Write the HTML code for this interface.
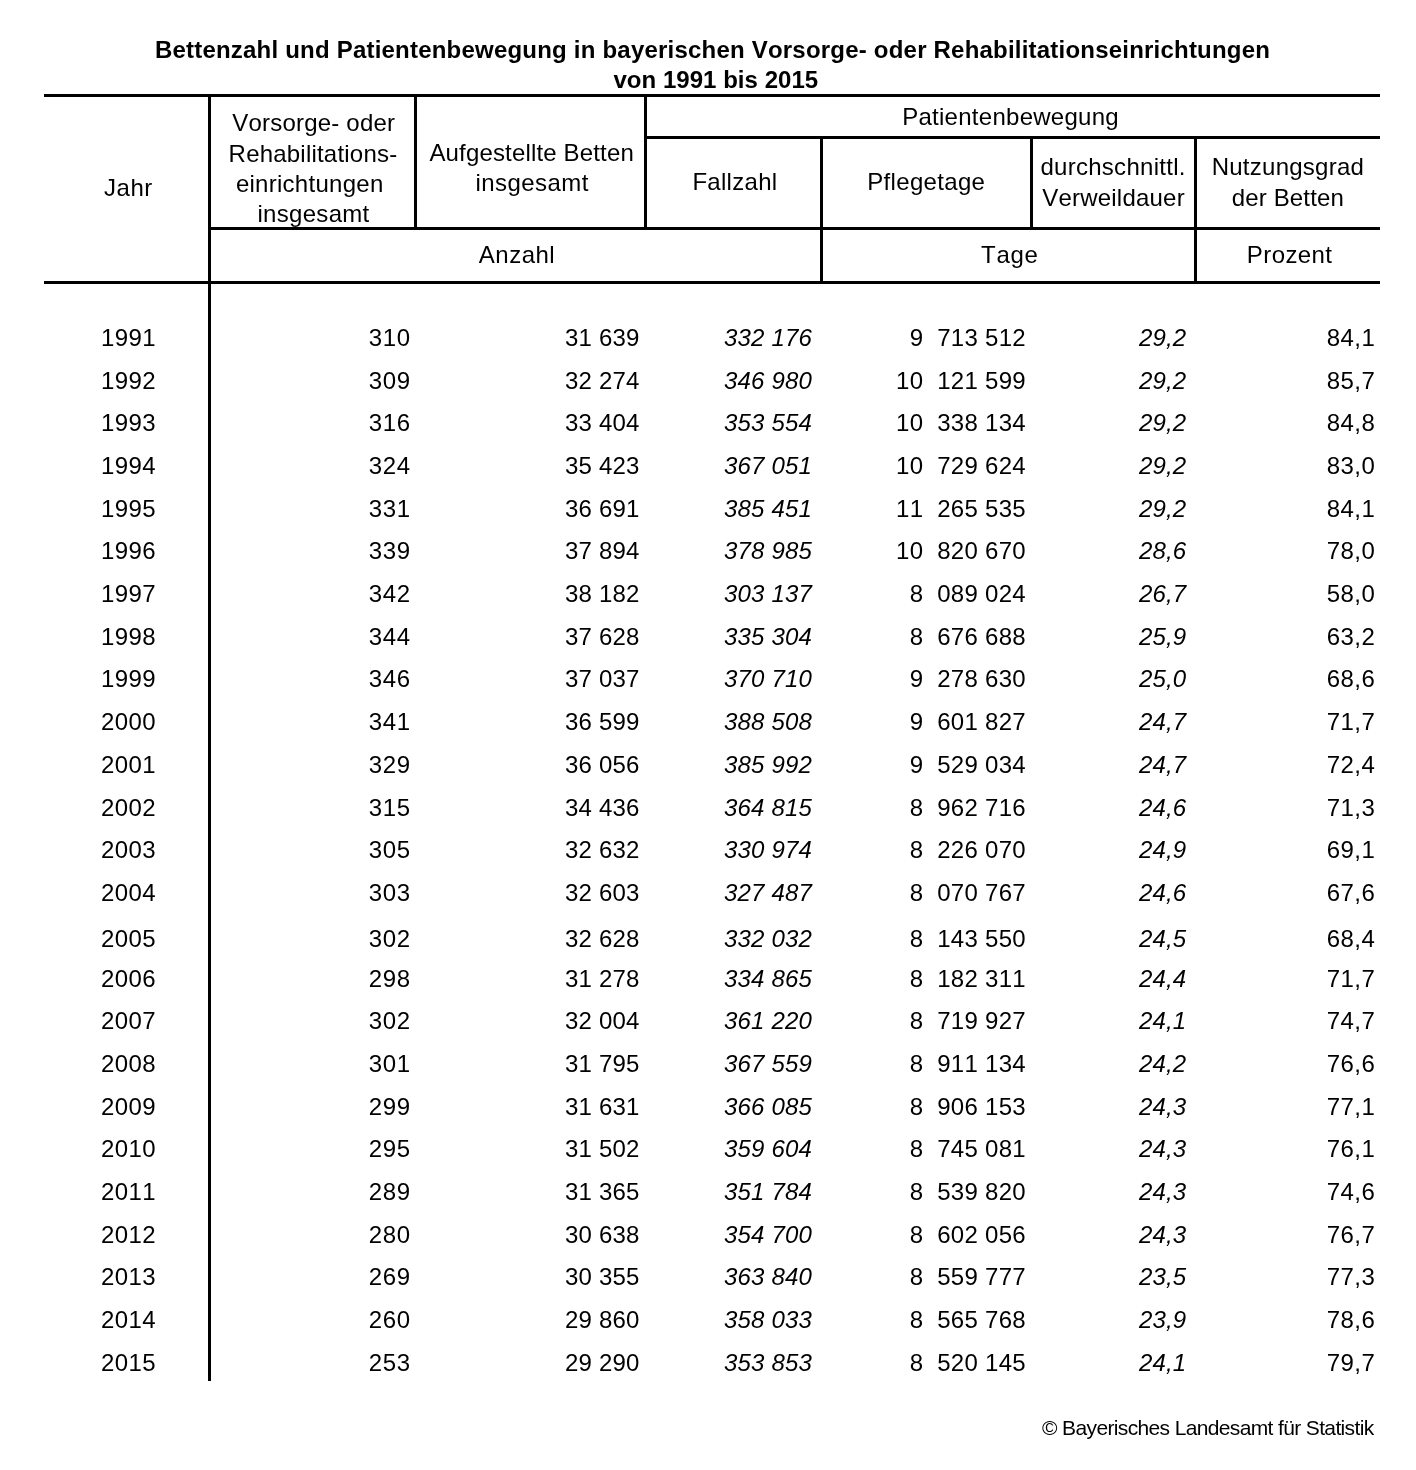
<!DOCTYPE html>
<html lang="de">
<head>
<meta charset="utf-8">
<title>Bettenzahl und Patientenbewegung in bayerischen Vorsorge- oder Rehabilitationseinrichtungen</title>
<style>
html,body{margin:0;padding:0;background:#fff;overflow:hidden;}
body{width:1416px;height:1470px;position:relative;font-family:"Liberation Sans",Arial,Helvetica,sans-serif;font-size:24px;color:#000;font-kerning:none;font-variant-ligatures:none;}
.l{position:absolute;background:#000;}
.t{position:absolute;white-space:pre;line-height:28px;height:28px;}
.i{font-style:italic;}
.b{font-weight:bold;}
.f{font-size:21px;}
.row{position:absolute;left:0;width:1416px;height:28px;line-height:28px;}
.row span{position:absolute;top:0;white-space:pre;text-align:right;}
.c0{right:1260.11px;letter-spacing:0.4px;}
.c1{right:1005.13px;letter-spacing:0.67px;}
.c2{right:776.33px;letter-spacing:0.23px;}
.c3{right:603.93px;letter-spacing:0.2px;font-style:italic;}
.c4{right:390.08px;letter-spacing:0.28px;}
.c5{right:229.85px;letter-spacing:0.13px;font-style:italic;}
.c6{right:40.88px;letter-spacing:0.4px;}
</style>
</head>
<body>
<div class="l" style="left:44px;top:94px;width:1336px;height:3px"></div>
<div class="l" style="left:44px;top:281px;width:1336px;height:3px"></div>
<div class="l" style="left:208px;top:94px;width:3px;height:1287px"></div>
<div class="l" style="left:414px;top:94px;width:3px;height:135px"></div>
<div class="l" style="left:644px;top:94px;width:3px;height:135px"></div>
<div class="l" style="left:644px;top:136px;width:736px;height:3px"></div>
<div class="l" style="left:820px;top:136px;width:3px;height:147px"></div>
<div class="l" style="left:1030px;top:136px;width:3px;height:93px"></div>
<div class="l" style="left:1194px;top:136px;width:3px;height:147px"></div>
<div class="l" style="left:208px;top:227px;width:1172px;height:3px"></div>
<div class="t b" style="left:154.9px;top:36px;letter-spacing:0.21px">Bettenzahl und Patientenbewegung in bayerischen Vorsorge- oder Rehabilitationseinrichtungen</div>
<div class="t b" style="left:613.4px;top:66px;letter-spacing:0.04px">von 1991 bis 2015</div>
<div class="t" style="left:103.9px;top:174px;letter-spacing:0.57px">Jahr</div>
<div class="t" style="left:232.2px;top:109px;letter-spacing:0.21px">Vorsorge- oder</div>
<div class="t" style="left:228.6px;top:140px;letter-spacing:0.21px">Rehabilitations-</div>
<div class="t" style="left:235.9px;top:170px;letter-spacing:0.27px">einrichtungen</div>
<div class="t" style="left:257.4px;top:200px;letter-spacing:0.31px">insgesamt</div>
<div class="t" style="left:429.4px;top:139px;letter-spacing:0.16px">Aufgestellte Betten</div>
<div class="t" style="left:475.4px;top:169px;letter-spacing:0.44px">insgesamt</div>
<div class="t" style="left:902.2px;top:103px;letter-spacing:0.27px">Patientenbewegung</div>
<div class="t" style="left:692.4px;top:168px;letter-spacing:0.29px">Fallzahl</div>
<div class="t" style="left:867.3px;top:168px;letter-spacing:0.32px">Pflegetage</div>
<div class="t" style="left:1040.4px;top:153px;letter-spacing:0.28px">durchschnittl.</div>
<div class="t" style="left:1042.2px;top:184px;letter-spacing:0.22px">Verweildauer</div>
<div class="t" style="left:1211.7px;top:153px;letter-spacing:0.25px">Nutzungsgrad</div>
<div class="t" style="left:1231.8px;top:184px;letter-spacing:0.14px">der Betten</div>
<div class="t" style="left:478.8px;top:241px;letter-spacing:0.5px">Anzahl</div>
<div class="t" style="left:981px;top:241px;letter-spacing:0.73px">Tage</div>
<div class="t" style="left:1246.8px;top:241px;letter-spacing:0.42px">Prozent</div>
<div class="t f" style="left:1042.1px;top:1414px;letter-spacing:-0.64px">© Bayerisches Landesamt für Statistik</div>
<div class="row" role="row" style="top:324px">
<span class="c0" role="cell">1991</span>
<span class="c1" role="cell">310</span>
<span class="c2" role="cell">31 639</span>
<span class="c3" role="cell">332 176</span>
<span class="c4" role="cell">9  713 512</span>
<span class="c5" role="cell">29,2</span>
<span class="c6" role="cell">84,1</span>
</div>
<div class="row" role="row" style="top:367px">
<span class="c0" role="cell">1992</span>
<span class="c1" role="cell">309</span>
<span class="c2" role="cell">32 274</span>
<span class="c3" role="cell">346 980</span>
<span class="c4" role="cell">10  121 599</span>
<span class="c5" role="cell">29,2</span>
<span class="c6" role="cell">85,7</span>
</div>
<div class="row" role="row" style="top:409px">
<span class="c0" role="cell">1993</span>
<span class="c1" role="cell">316</span>
<span class="c2" role="cell">33 404</span>
<span class="c3" role="cell">353 554</span>
<span class="c4" role="cell">10  338 134</span>
<span class="c5" role="cell">29,2</span>
<span class="c6" role="cell">84,8</span>
</div>
<div class="row" role="row" style="top:452px">
<span class="c0" role="cell">1994</span>
<span class="c1" role="cell">324</span>
<span class="c2" role="cell">35 423</span>
<span class="c3" role="cell">367 051</span>
<span class="c4" role="cell">10  729 624</span>
<span class="c5" role="cell">29,2</span>
<span class="c6" role="cell">83,0</span>
</div>
<div class="row" role="row" style="top:495px">
<span class="c0" role="cell">1995</span>
<span class="c1" role="cell">331</span>
<span class="c2" role="cell">36 691</span>
<span class="c3" role="cell">385 451</span>
<span class="c4" role="cell">11  265 535</span>
<span class="c5" role="cell">29,2</span>
<span class="c6" role="cell">84,1</span>
</div>
<div class="row" role="row" style="top:537px">
<span class="c0" role="cell">1996</span>
<span class="c1" role="cell">339</span>
<span class="c2" role="cell">37 894</span>
<span class="c3" role="cell">378 985</span>
<span class="c4" role="cell">10  820 670</span>
<span class="c5" role="cell">28,6</span>
<span class="c6" role="cell">78,0</span>
</div>
<div class="row" role="row" style="top:580px">
<span class="c0" role="cell">1997</span>
<span class="c1" role="cell">342</span>
<span class="c2" role="cell">38 182</span>
<span class="c3" role="cell">303 137</span>
<span class="c4" role="cell">8  089 024</span>
<span class="c5" role="cell">26,7</span>
<span class="c6" role="cell">58,0</span>
</div>
<div class="row" role="row" style="top:623px">
<span class="c0" role="cell">1998</span>
<span class="c1" role="cell">344</span>
<span class="c2" role="cell">37 628</span>
<span class="c3" role="cell">335 304</span>
<span class="c4" role="cell">8  676 688</span>
<span class="c5" role="cell">25,9</span>
<span class="c6" role="cell">63,2</span>
</div>
<div class="row" role="row" style="top:665px">
<span class="c0" role="cell">1999</span>
<span class="c1" role="cell">346</span>
<span class="c2" role="cell">37 037</span>
<span class="c3" role="cell">370 710</span>
<span class="c4" role="cell">9  278 630</span>
<span class="c5" role="cell">25,0</span>
<span class="c6" role="cell">68,6</span>
</div>
<div class="row" role="row" style="top:708px">
<span class="c0" role="cell">2000</span>
<span class="c1" role="cell">341</span>
<span class="c2" role="cell">36 599</span>
<span class="c3" role="cell">388 508</span>
<span class="c4" role="cell">9  601 827</span>
<span class="c5" role="cell">24,7</span>
<span class="c6" role="cell">71,7</span>
</div>
<div class="row" role="row" style="top:751px">
<span class="c0" role="cell">2001</span>
<span class="c1" role="cell">329</span>
<span class="c2" role="cell">36 056</span>
<span class="c3" role="cell">385 992</span>
<span class="c4" role="cell">9  529 034</span>
<span class="c5" role="cell">24,7</span>
<span class="c6" role="cell">72,4</span>
</div>
<div class="row" role="row" style="top:794px">
<span class="c0" role="cell">2002</span>
<span class="c1" role="cell">315</span>
<span class="c2" role="cell">34 436</span>
<span class="c3" role="cell">364 815</span>
<span class="c4" role="cell">8  962 716</span>
<span class="c5" role="cell">24,6</span>
<span class="c6" role="cell">71,3</span>
</div>
<div class="row" role="row" style="top:836px">
<span class="c0" role="cell">2003</span>
<span class="c1" role="cell">305</span>
<span class="c2" role="cell">32 632</span>
<span class="c3" role="cell">330 974</span>
<span class="c4" role="cell">8  226 070</span>
<span class="c5" role="cell">24,9</span>
<span class="c6" role="cell">69,1</span>
</div>
<div class="row" role="row" style="top:879px">
<span class="c0" role="cell">2004</span>
<span class="c1" role="cell">303</span>
<span class="c2" role="cell">32 603</span>
<span class="c3" role="cell">327 487</span>
<span class="c4" role="cell">8  070 767</span>
<span class="c5" role="cell">24,6</span>
<span class="c6" role="cell">67,6</span>
</div>
<div class="row" role="row" style="top:925px">
<span class="c0" role="cell">2005</span>
<span class="c1" role="cell">302</span>
<span class="c2" role="cell">32 628</span>
<span class="c3" role="cell">332 032</span>
<span class="c4" role="cell">8  143 550</span>
<span class="c5" role="cell">24,5</span>
<span class="c6" role="cell">68,4</span>
</div>
<div class="row" role="row" style="top:965px">
<span class="c0" role="cell">2006</span>
<span class="c1" role="cell">298</span>
<span class="c2" role="cell">31 278</span>
<span class="c3" role="cell">334 865</span>
<span class="c4" role="cell">8  182 311</span>
<span class="c5" role="cell">24,4</span>
<span class="c6" role="cell">71,7</span>
</div>
<div class="row" role="row" style="top:1007px">
<span class="c0" role="cell">2007</span>
<span class="c1" role="cell">302</span>
<span class="c2" role="cell">32 004</span>
<span class="c3" role="cell">361 220</span>
<span class="c4" role="cell">8  719 927</span>
<span class="c5" role="cell">24,1</span>
<span class="c6" role="cell">74,7</span>
</div>
<div class="row" role="row" style="top:1050px">
<span class="c0" role="cell">2008</span>
<span class="c1" role="cell">301</span>
<span class="c2" role="cell">31 795</span>
<span class="c3" role="cell">367 559</span>
<span class="c4" role="cell">8  911 134</span>
<span class="c5" role="cell">24,2</span>
<span class="c6" role="cell">76,6</span>
</div>
<div class="row" role="row" style="top:1093px">
<span class="c0" role="cell">2009</span>
<span class="c1" role="cell">299</span>
<span class="c2" role="cell">31 631</span>
<span class="c3" role="cell">366 085</span>
<span class="c4" role="cell">8  906 153</span>
<span class="c5" role="cell">24,3</span>
<span class="c6" role="cell">77,1</span>
</div>
<div class="row" role="row" style="top:1135px">
<span class="c0" role="cell">2010</span>
<span class="c1" role="cell">295</span>
<span class="c2" role="cell">31 502</span>
<span class="c3" role="cell">359 604</span>
<span class="c4" role="cell">8  745 081</span>
<span class="c5" role="cell">24,3</span>
<span class="c6" role="cell">76,1</span>
</div>
<div class="row" role="row" style="top:1178px">
<span class="c0" role="cell">2011</span>
<span class="c1" role="cell">289</span>
<span class="c2" role="cell">31 365</span>
<span class="c3" role="cell">351 784</span>
<span class="c4" role="cell">8  539 820</span>
<span class="c5" role="cell">24,3</span>
<span class="c6" role="cell">74,6</span>
</div>
<div class="row" role="row" style="top:1221px">
<span class="c0" role="cell">2012</span>
<span class="c1" role="cell">280</span>
<span class="c2" role="cell">30 638</span>
<span class="c3" role="cell">354 700</span>
<span class="c4" role="cell">8  602 056</span>
<span class="c5" role="cell">24,3</span>
<span class="c6" role="cell">76,7</span>
</div>
<div class="row" role="row" style="top:1263px">
<span class="c0" role="cell">2013</span>
<span class="c1" role="cell">269</span>
<span class="c2" role="cell">30 355</span>
<span class="c3" role="cell">363 840</span>
<span class="c4" role="cell">8  559 777</span>
<span class="c5" role="cell">23,5</span>
<span class="c6" role="cell">77,3</span>
</div>
<div class="row" role="row" style="top:1306px">
<span class="c0" role="cell">2014</span>
<span class="c1" role="cell">260</span>
<span class="c2" role="cell">29 860</span>
<span class="c3" role="cell">358 033</span>
<span class="c4" role="cell">8  565 768</span>
<span class="c5" role="cell">23,9</span>
<span class="c6" role="cell">78,6</span>
</div>
<div class="row" role="row" style="top:1349px">
<span class="c0" role="cell">2015</span>
<span class="c1" role="cell">253</span>
<span class="c2" role="cell">29 290</span>
<span class="c3" role="cell">353 853</span>
<span class="c4" role="cell">8  520 145</span>
<span class="c5" role="cell">24,1</span>
<span class="c6" role="cell">79,7</span>
</div>
</body>
</html>
